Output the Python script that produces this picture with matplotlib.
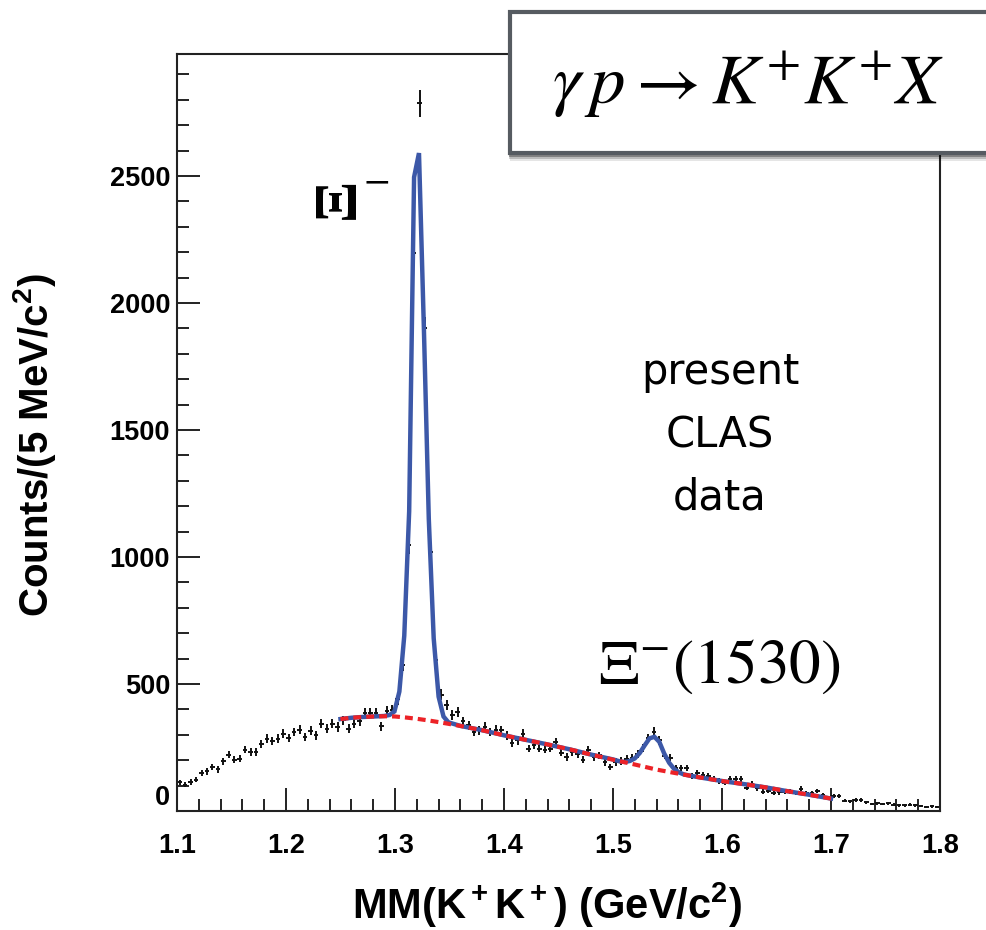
import numpy as np
import matplotlib
matplotlib.use("Agg")
import matplotlib.pyplot as plt
from matplotlib.patches import Rectangle
from matplotlib.ticker import MultipleLocator

plt.rcParams['font.family'] = ['Liberation Sans', 'DejaVu Sans']
plt.rcParams['mathtext.fontset'] = 'custom'
plt.rcParams['mathtext.rm'] = 'Liberation Sans:bold'
plt.rcParams['mathtext.bf'] = 'Liberation Sans:bold'
plt.rcParams['mathtext.it'] = 'Liberation Sans:bold'

# ---------------- data ----------------
bin_lo, bin_hi, bin_w = 1.1, 1.8, 0.005
counts = [
    113, 104, 114, 124, 151, 156, 173, 164, 196, 222,
    202, 206, 242, 232, 232, 265, 285, 276, 285, 305,
    287, 311, 320, 291, 315, 298, 344, 324, 344, 331,
    357, 324, 344, 353, 386, 386, 386, 333, 393, 396,
    439, 575, 1046, 2195, 2786, 1900, 1018, 594, 458, 418,
    378, 390, 353, 337, 311, 318, 331, 311, 320, 318,
    298, 268, 278, 305, 246, 261, 246, 242, 246, 272,
    230, 213, 232, 225, 202, 242, 212, 219, 191, 173,
    193, 197, 206, 210, 225, 248, 287, 312, 278, 218,
    210, 168, 170, 170, 138, 148, 140, 137, 125, 118,
    112, 126, 126, 125, 92, 106, 90, 76, 80, 71,
    73, 74, 77, 72, 88, 70, 72, 78, 62, 52,
    58, 60, 40, 38, 44, 44, 35, 27, 30, 28,
    30, 25, 22, 22, 25, 22, 20, 14, 18, 17,
]

# background (red dashed)
bg_x = [1.25, 1.26, 1.27, 1.28, 1.29, 1.30, 1.31, 1.32, 1.33, 1.34, 1.36, 1.38,
        1.40, 1.42, 1.44, 1.46, 1.48, 1.50, 1.52, 1.54, 1.56, 1.58, 1.60, 1.62,
        1.64, 1.66, 1.68, 1.70]
bg_y = [362, 367, 370, 372, 373, 372, 368, 363, 357, 350, 335, 318,
        298, 280, 262, 243, 222, 202, 183, 163, 147, 132, 118, 106,
        93, 78, 64, 49]

# total fit (blue)
fit_x = [1.25, 1.26, 1.27, 1.28, 1.29, 1.295, 1.2995, 1.304, 1.3085, 1.313,
         1.3175, 1.322, 1.3265, 1.331, 1.3355, 1.34, 1.3445, 1.349, 1.36, 1.38,
         1.40, 1.42, 1.44, 1.46, 1.48, 1.50, 1.5065, 1.511, 1.5155, 1.52,
         1.5245, 1.529, 1.5335, 1.538, 1.5425, 1.547, 1.5515, 1.556, 1.5605,
         1.565, 1.5695, 1.58, 1.60, 1.62, 1.64, 1.66, 1.68, 1.70]
fit_y = [362, 367, 370, 372, 374, 378, 392, 470, 690, 1180,
         2495, 2590, 1900, 1150, 680, 450, 372, 349, 335, 318,
         298, 280, 262, 243, 222, 203, 195, 193, 197, 207,
         228, 258, 286, 292, 272, 226, 190, 166, 152,
         144, 140, 132, 118, 106, 93, 78, 64, 49]

x_ticks = [1.1, 1.2, 1.3, 1.4, 1.5, 1.6, 1.7, 1.8]
x_tick_labels = ['1.1', '1.2', '1.3', '1.4', '1.5', '1.6', '1.7', '1.8']
y_ticks = [0, 500, 1000, 1500, 2000, 2500]
y_tick_labels = ['0', '500', '1000', '1500', '2000', '2500']

# ---------------- figure ----------------
W, H = 986, 930
fig = plt.figure(figsize=(W / 100, H / 100), dpi=100)


def fx(px):
    return px / W


def fy(py):
    return 1 - py / H


ax = fig.add_axes([fx(177), fy(811), fx(940) - fx(177), (811 - 54) / H])

counts_arr = np.array(counts, dtype=float)
centers = bin_lo + bin_w * (np.arange(len(counts_arr)) + 0.5)
ax.errorbar(centers, counts_arr, yerr=np.sqrt(counts_arr), xerr=0.0021,
            fmt='none', ecolor='#111111', elinewidth=1.4, capsize=0, zorder=2)

ax.plot(fit_x, fit_y, color='#3c58a8', lw=3.2, zorder=3,
        solid_joinstyle='miter')
ax.plot(bg_x, bg_y, color='#ec2227', lw=3.0, dashes=(1.9, 1.2), zorder=4)

ax.set_xlim(bin_lo, bin_hi)
ax.set_ylim(0, 2980)
ax.set_xticks(x_ticks)
ax.set_xticklabels(x_tick_labels)
ax.set_yticks(y_ticks)
ax.set_yticklabels(y_tick_labels)
ax.xaxis.set_minor_locator(MultipleLocator(0.02))
ax.yaxis.set_minor_locator(MultipleLocator(100))
ax.tick_params(which='both', direction='in', top=False, right=False,
               width=1.4, colors='#222222')
ax.tick_params(which='major', length=16.5)
ax.tick_params(which='minor', length=8.5)
ax.tick_params(axis='x', which='major', pad=16, labelsize=19.5)
ax.tick_params(axis='y', which='major', pad=5, labelsize=19.5)
for lab in ax.get_xticklabels() + ax.get_yticklabels():
    lab.set_fontweight('bold')
    lab.set_color('black')
ax.yaxis.get_major_ticks()[0].label1.set_verticalalignment('bottom')
for sp in ax.spines.values():
    sp.set_linewidth(1.5)
    sp.set_color('#222222')

# axis titles
fig.text(fx(547), fy(905), r'MM(K$^{\bf +}$K$^{\bf +}$) (GeV/c$^{\bf 2}$)',
         fontsize=30, fontweight='bold', ha='center', va='center')
fig.text(fx(35), fy(445), r'Counts/(5 MeV/c$^{\bf 2}$)',
         fontsize=29, fontweight='bold', ha='center', va='center',
         rotation=90)

# annotations
fig.text(fx(339), fy(198), 'Ξ', family='Liberation Serif', fontweight='bold',
         fontsize=44, rotation=90, ha='center', va='center')
fig.text(fx(376), fy(180), r'$-$', math_fontfamily='stix', fontsize=28,
         ha='center', va='center')
fig.text(fx(598), fy(683), r'$\Xi^{-}\mathrm{(1530)}$', math_fontfamily='stix',
         fontsize=45.5, ha='left', va='baseline')

for txt, py in (('present', 372), ('CLAS', 436), ('data', 497)):
    fig.text(fx(720), fy(py), txt, family='DejaVu Sans', fontsize=30,
             ha='center', va='center')

# reaction box with shadow
for off, alpha in ((6, 0.10), (4, 0.18), (2, 0.30)):
    fig.add_artist(Rectangle((fx(508 + off * 0.3), fy(155 + off)),
                             fx(1010) - fx(508), (155 - 10) / H,
                             transform=fig.transFigure, facecolor='#000000',
                             edgecolor='none', alpha=alpha, zorder=19))
fig.add_artist(Rectangle((fx(510), fy(153)), fx(1010) - fx(510), (153 - 12) / H,
                         transform=fig.transFigure, facecolor='white',
                         edgecolor='#565b61', lw=3.0, zorder=20))
fig.text(fx(748), fy(85), r'$\gamma\, p \rightarrow K^{+}K^{+}X$',
         math_fontfamily='stix', fontsize=51, ha='center', va='center',
         zorder=21)

fig.savefig('out.png', dpi=100)
